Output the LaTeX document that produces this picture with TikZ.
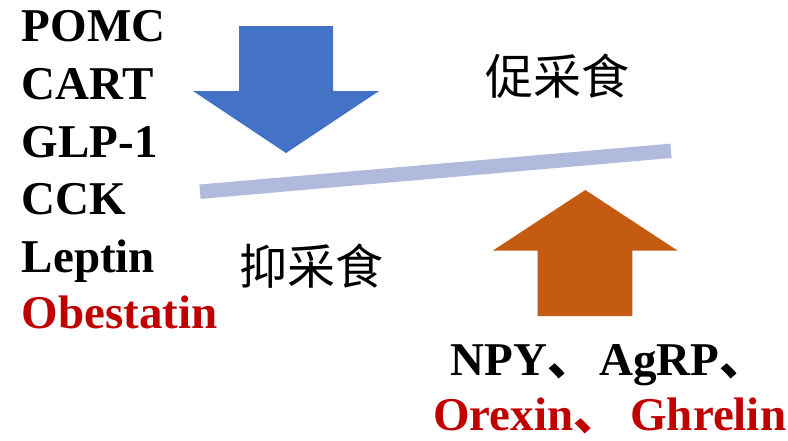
\documentclass[tikz,border=0pt]{standalone}
\usepackage{fontspec}
\setmainfont{Liberation Serif}
\newfontfamily\cjk{Noto Sans CJK SC}
\definecolor{arrblue}{RGB}{68,114,196}
\definecolor{arrorange}{RGB}{197,90,17}
\definecolor{barblue}{RGB}{175,186,220}
\definecolor{darkred}{RGB}{192,0,0}
\begin{document}
\begin{tikzpicture}[x=1pt,y=-1pt,
  lbl/.style={anchor=base west,inner sep=0pt,font=\fontsize{47}{47}\selectfont\bfseries},
  cn/.style={inner sep=0pt,font=\cjk\fontsize{48}{48}\selectfont}]
\useasboundingbox (0,0) rectangle (788,440);
% left list
\node[lbl] (pomc) at (21.7,41.7) {POMC};
\node[lbl] (cart) at (21.7,99.3) {CART};
\node[lbl] (glp) at (21.7,157) {GLP-1};
\node[lbl] (cck) at (21.7,214) {CCK};
\node[lbl] (lep) at (21.7,272) {Leptin};
\node[lbl,text=darkred] (obe) at (21.7,328) {Obestatin};
% blue down arrow
\fill[arrblue] (239,26) -- (333,26) -- (333,91) -- (379,91) -- (286,153) -- (193,91) -- (239,91) -- cycle;
% bar
\coordinate (b1) at (200,191.7);
\coordinate (b2) at (671,150.8);
\draw[barblue,line width=14.4pt] (b1) -- (b2);
% orange up arrow
\fill[arrorange] (585.3,190) -- (677.7,250.7) -- (632.3,250.7) -- (632.3,316) -- (537.7,316) -- (537.7,250.7) -- (492.7,250.7) -- cycle;
% chinese labels
\node[cn] (cu) at (557.5,76) {促采食};
\node[cn] (yi) at (311,266) {抑采食};
% bottom texts
\node[lbl] (npy) at (450.7,375) {NPY{\cjk 、}\hspace{5pt}AgRP{\cjk 、}};
\node[lbl,text=darkred] (ore) at (433,430) {Orexin{\cjk 、}\hspace{10pt}Ghrelin};
\end{tikzpicture}
\end{document}
